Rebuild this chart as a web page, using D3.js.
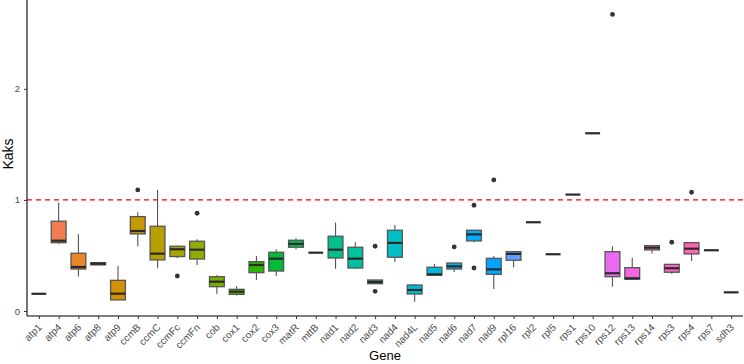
<!DOCTYPE html>
<html>
<head>
<meta charset="utf-8">
<script src="https://cdn.jsdelivr.net/npm/d3@7"></script>
<style>
  body { margin: 0; background: #fff; }
  svg { display: block; font-family: "Liberation Sans", Arial, sans-serif; }
</style>
</head>
<body>
<div id="chart"></div>
<script>
// Genes on the x axis
const genes = ['atp1','atp4','atp6','atp8','atp9','ccmB','ccmC','ccmFc','ccmFn','cob','cox1','cox2','cox3','matR','mttB',
  'nad1','nad2','nad3','nad4','nad4L','nad5','nad6','nad7','nad9','rpl16','rpl2','rpl5','rps1','rps10','rps12','rps13',
  'rps14','rps3','rps4','rps7','sdh3'];

// Box statistics
const whiskLo = [0.155,0.606,0.31,0.415,0.10,0.58,0.385,0.475,0.414,0.153,0.14,0.28,0.315,0.556,0.525,
  0.381,0.38,0.246,0.444,0.084,0.32,0.351,0.62,0.198,0.394,0.799,0.511,1.048,1.60,0.219,0.28,
  0.516,0.333,0.45,0.547,0.168];
const q1 = [0.155,0.615,0.378,0.415,0.10,0.694,0.46,0.49,0.468,0.219,0.15,0.345,0.36,0.574,0.525,
  0.477,0.387,0.246,0.484,0.153,0.322,0.378,0.631,0.33,0.457,0.799,0.511,1.048,1.60,0.309,0.286,
  0.55,0.349,0.514,0.547,0.168];
const median = [0.155,0.633,0.396,0.426,0.156,0.72,0.516,0.556,0.552,0.264,0.174,0.414,0.471,0.604,0.525,
  0.552,0.471,0.261,0.613,0.189,0.33,0.402,0.69,0.375,0.514,0.799,0.511,1.048,1.60,0.34,0.295,
  0.57,0.385,0.561,0.547,0.168];
const q3 = [0.155,0.808,0.52,0.435,0.276,0.85,0.763,0.583,0.628,0.309,0.195,0.444,0.529,0.637,0.525,
  0.673,0.574,0.279,0.727,0.234,0.394,0.432,0.727,0.474,0.534,0.799,0.511,1.048,1.60,0.534,0.39,
  0.588,0.42,0.615,0.547,0.168];
const whiskHi = [0.155,0.976,0.69,0.444,0.405,0.889,1.09,0.59,0.646,0.324,0.225,0.495,0.556,0.655,0.525,
  0.796,0.622,0.279,0.775,0.243,0.423,0.432,0.727,0.495,0.534,0.799,0.511,1.048,1.60,0.583,0.48,
  0.59,0.42,0.62,0.547,0.168];
const outliers = [[],[],[],[],[],[1.09],[],[0.315],[0.88],[],[],[],[],[],[],
  [],[],[0.583,0.177],[],[],[],[0.577],[0.952,0.387],[1.18],[],[],[],[],[],[2.67],[],
  [],[0.619],[1.069],[],[]];

const yTicks = [0, 1, 2];
const refLine = 1;

// ggplot-style hue palette (polar LUV)
function hclToHex(h, c, l) {
  const hr = h * Math.PI / 180;
  const U = c * Math.cos(hr), V = c * Math.sin(hr);
  const Xn = 95.047, Yn = 100, Zn = 108.883;
  const un = 4 * Xn / (Xn + 15 * Yn + 3 * Zn), vn = 9 * Yn / (Xn + 15 * Yn + 3 * Zn);
  const Y = l > 8 ? Yn * Math.pow((l + 16) / 116, 3) : Yn * l / 903.3;
  const up = U / (13 * l) + un, vp = V / (13 * l) + vn;
  const X = 9 * Y * up / (4 * vp);
  const Z = -X / 3 - 5 * Y + 3 * Y / vp;
  const x = X / 100, y = Y / 100, z = Z / 100;
  const lin = [
    3.240479 * x - 1.537150 * y - 0.498535 * z,
    -0.969256 * x + 1.875992 * y + 0.041556 * z,
    0.055648 * x - 0.204043 * y + 1.057311 * z
  ];
  const g = lin.map(v => {
    v = v <= 0.0031308 ? 12.92 * v : 1.055 * Math.pow(v, 1 / 2.4) - 0.055;
    return Math.max(0, Math.min(255, Math.round(v * 255)));
  });
  return d3.rgb(g[0], g[1], g[2]).formatHex();
}
const n = genes.length;
const colors = genes.map((_, i) => hclToHex(15 + i * 360 / n, 100, 65));

const data = genes.map((g, i) => ({
  gene: g, lo: whiskLo[i], q1: q1[i], med: median[i], q3: q3[i], hi: whiskHi[i], out: outliers[i], color: colors[i]
}));

const width = 744, height = 364;
const margin = { top: 0, right: 1, bottom: 48, left: 27 };
const innerW = width - margin.left - margin.right;
const innerH = height - margin.top - margin.bottom;

const svg = d3.select('#chart').append('svg').attr('width', width).attr('height', height);
const g = svg.append('g').attr('transform', `translate(${margin.left},${margin.top})`);

const x = d3.scalePoint().domain(genes).range([0, innerW]).padding(0.6);
const y = d3.scaleLinear().domain([-0.045, 2.8]).range([innerH, 0]);
const boxW = x.step() * 0.75;

// Reference line
g.append('line')
  .attr('x1', 0).attr('x2', innerW)
  .attr('y1', y(refLine)).attr('y2', y(refLine))
  .attr('stroke', '#ff0000').attr('stroke-width', 1.3).attr('stroke-dasharray', '5,4');

// Boxplots
const boxes = g.selectAll('.box').data(data).enter().append('g').attr('class', 'box')
  .attr('transform', d => `translate(${x(d.gene)},0)`);

boxes.append('line').attr('x1', 0).attr('x2', 0)
  .attr('y1', d => y(d.hi)).attr('y2', d => y(d.q3))
  .attr('stroke', '#555').attr('stroke-width', 1.1);
boxes.append('line').attr('x1', 0).attr('x2', 0)
  .attr('y1', d => y(d.q1)).attr('y2', d => y(d.lo))
  .attr('stroke', '#555').attr('stroke-width', 1.1);

boxes.append('rect')
  .attr('x', -boxW / 2).attr('width', boxW)
  .attr('y', d => y(d.q3)).attr('height', d => Math.max(0, y(d.q1) - y(d.q3)))
  .attr('fill', d => d.color).attr('stroke', '#555').attr('stroke-width', 1.3);

boxes.append('line')
  .attr('x1', -boxW / 2).attr('x2', boxW / 2)
  .attr('y1', d => y(d.med)).attr('y2', d => y(d.med))
  .attr('stroke', '#2a2a2a').attr('stroke-width', 2.2);

boxes.selectAll('circle').data(d => d.out).enter().append('circle')
  .attr('cx', 0).attr('cy', v => y(v)).attr('r', 2.4).attr('fill', '#333');

// Axes
const yAxis = g.append('g').call(d3.axisLeft(y).tickValues(yTicks).tickFormat(d3.format('d')).tickSize(3).tickPadding(4));
yAxis.select('.domain').attr('stroke', '#000').attr('stroke-width', 1.1).attr('d', `M0,0V${innerH}`);
yAxis.selectAll('.tick line').attr('stroke', '#333');
yAxis.selectAll('.tick text').attr('fill', '#4d4d4d').attr('font-size', 9.5).attr('font-family', 'Liberation Sans, Arial, sans-serif');

const xAxis = g.append('g').attr('transform', `translate(0,${innerH})`)
  .call(d3.axisBottom(x).tickSize(3).tickPadding(2));
xAxis.select('.domain').attr('stroke', '#000').attr('stroke-width', 1.1).attr('d', `M0,0H${innerW}`);
xAxis.selectAll('.tick line').attr('stroke', '#333');
xAxis.selectAll('.tick text')
  .attr('fill', '#4d4d4d').attr('font-size', 10).attr('font-family', 'Liberation Sans, Arial, sans-serif')
  .attr('text-anchor', 'end').attr('dy', null).attr('y', 0)
  .attr('transform', 'translate(3,12) rotate(-45)');

// Titles
svg.append('text').attr('x', margin.left + innerW / 2).attr('y', 360)
  .attr('text-anchor', 'middle').attr('font-size', 13).attr('fill', '#000').text('Gene');
svg.append('text').attr('transform', `translate(13,154) rotate(-90)`)
  .attr('text-anchor', 'middle').attr('font-size', 14).attr('fill', '#000').text('Kaks');
</script>
</body>
</html>
